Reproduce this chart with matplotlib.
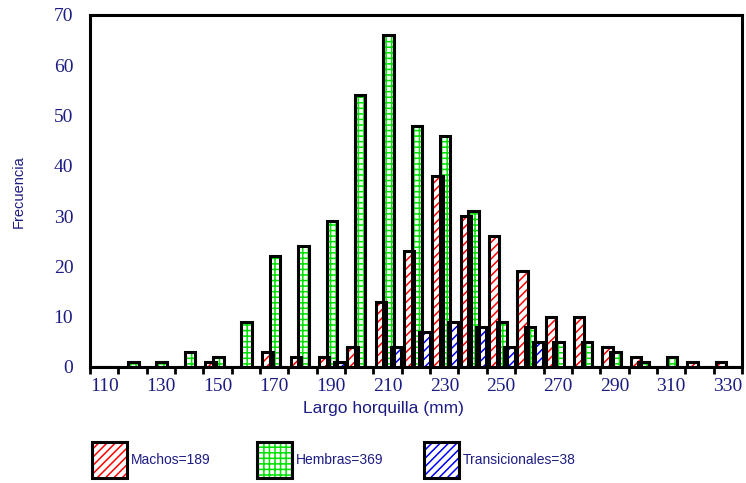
import numpy as np
import matplotlib
matplotlib.use("Agg")
import matplotlib.pyplot as plt
from matplotlib.patches import Rectangle

# fork length classes (mm) and counts per sex group
largo = [110, 120, 130, 140, 150, 160, 170, 180, 190, 200, 210, 220,
         230, 240, 250, 260, 270, 280, 290, 300, 310, 320, 330]
machos = [0, 0, 0, 0, 1, 0, 3, 2, 2, 4, 13, 23,
          38, 30, 26, 19, 10, 10, 4, 2, 0, 1, 1]
hembras = [0, 1, 1, 3, 2, 9, 22, 24, 29, 54, 66, 48,
           46, 31, 9, 8, 5, 5, 3, 1, 2, 0, 0]
transicionales = [0, 0, 0, 0, 0, 0, 0, 0, 1, 0, 4, 7,
                  9, 8, 4, 5, 0, 0, 0, 0, 0, 0, 0]
etiquetas = ["Machos=189", "Hembras=369", "Transicionales=38"]

navy = "#1c1c84"
plt.rcParams["hatch.linewidth"] = 1.1

fig = plt.figure(figsize=(7.46, 4.83), dpi=100)
ax = fig.add_axes([0.1206, 0.2402, 0.8740, 0.7288])

x = np.arange(len(largo))
ancho = 0.37
series = [(machos, "#ff0000", "////", -0.24),
          (hembras, "#00e000", "+++", 0.03),
          (transicionales, "#0000ff", "////", 0.30)]

# hatch drawn in colour first, black outline on top
for vals, col, hatch, off in series:
    ax.bar(x + off, vals, ancho, facecolor="white", edgecolor=col,
           hatch=hatch, linewidth=0, zorder=2)
    ax.bar(x + off, vals, ancho, fill=False, edgecolor="black",
           linewidth=2.2, zorder=3)

ax.set_xlim(-0.5, len(largo) - 0.5)
ax.set_ylim(0, 70)

for s in ax.spines.values():
    s.set_linewidth(2.2)
    s.set_zorder(4)

# labels every other class, tick marks on class boundaries
ax.set_xticks(x[::2])
ax.set_xticklabels([str(v) for v in largo[::2]])
ax.set_xticks(np.arange(-0.5, len(largo)), minor=True)
ax.tick_params(axis="x", which="major", length=0, pad=8,
               labelsize=14, labelcolor=navy)
ax.tick_params(axis="x", which="minor", length=5, width=2, direction="out")
ax.set_yticks(np.arange(0, 71, 10))
ax.tick_params(axis="y", length=0, pad=12, labelsize=14, labelcolor=navy)
for lab in ax.get_xticklabels() + ax.get_yticklabels():
    lab.set_fontfamily("Liberation Serif")

fig.text(383 / 746, 1 - 408 / 483, "Largo horquilla (mm)", ha="center",
         va="center", color=navy, fontsize=12.5, family="Liberation Sans")
fig.text(19 / 746, 1 - 192 / 483, "Frecuencia", ha="center", va="center",
         rotation=90, color=navy, fontsize=10.5, family="Liberation Sans")

# legend boxes below the plot
leg_x = [92, 257, 424]
for (vals, col, hatch, off), lx, txt in zip(series, leg_x, etiquetas):
    box = dict(xy=(lx / 746, 1 - 478 / 483), width=35 / 746,
               height=36 / 483, transform=fig.transFigure)
    fig.add_artist(Rectangle(facecolor="white", edgecolor=col, hatch=hatch,
                             linewidth=0, **box))
    fig.add_artist(Rectangle(fill=False, edgecolor="black", linewidth=2.2,
                             **box))
    fig.text((lx + 39) / 746, 1 - 460 / 483, txt, ha="left", va="center",
             color=navy, fontsize=10, family="Liberation Sans")

fig.savefig("out.png", dpi=100)
